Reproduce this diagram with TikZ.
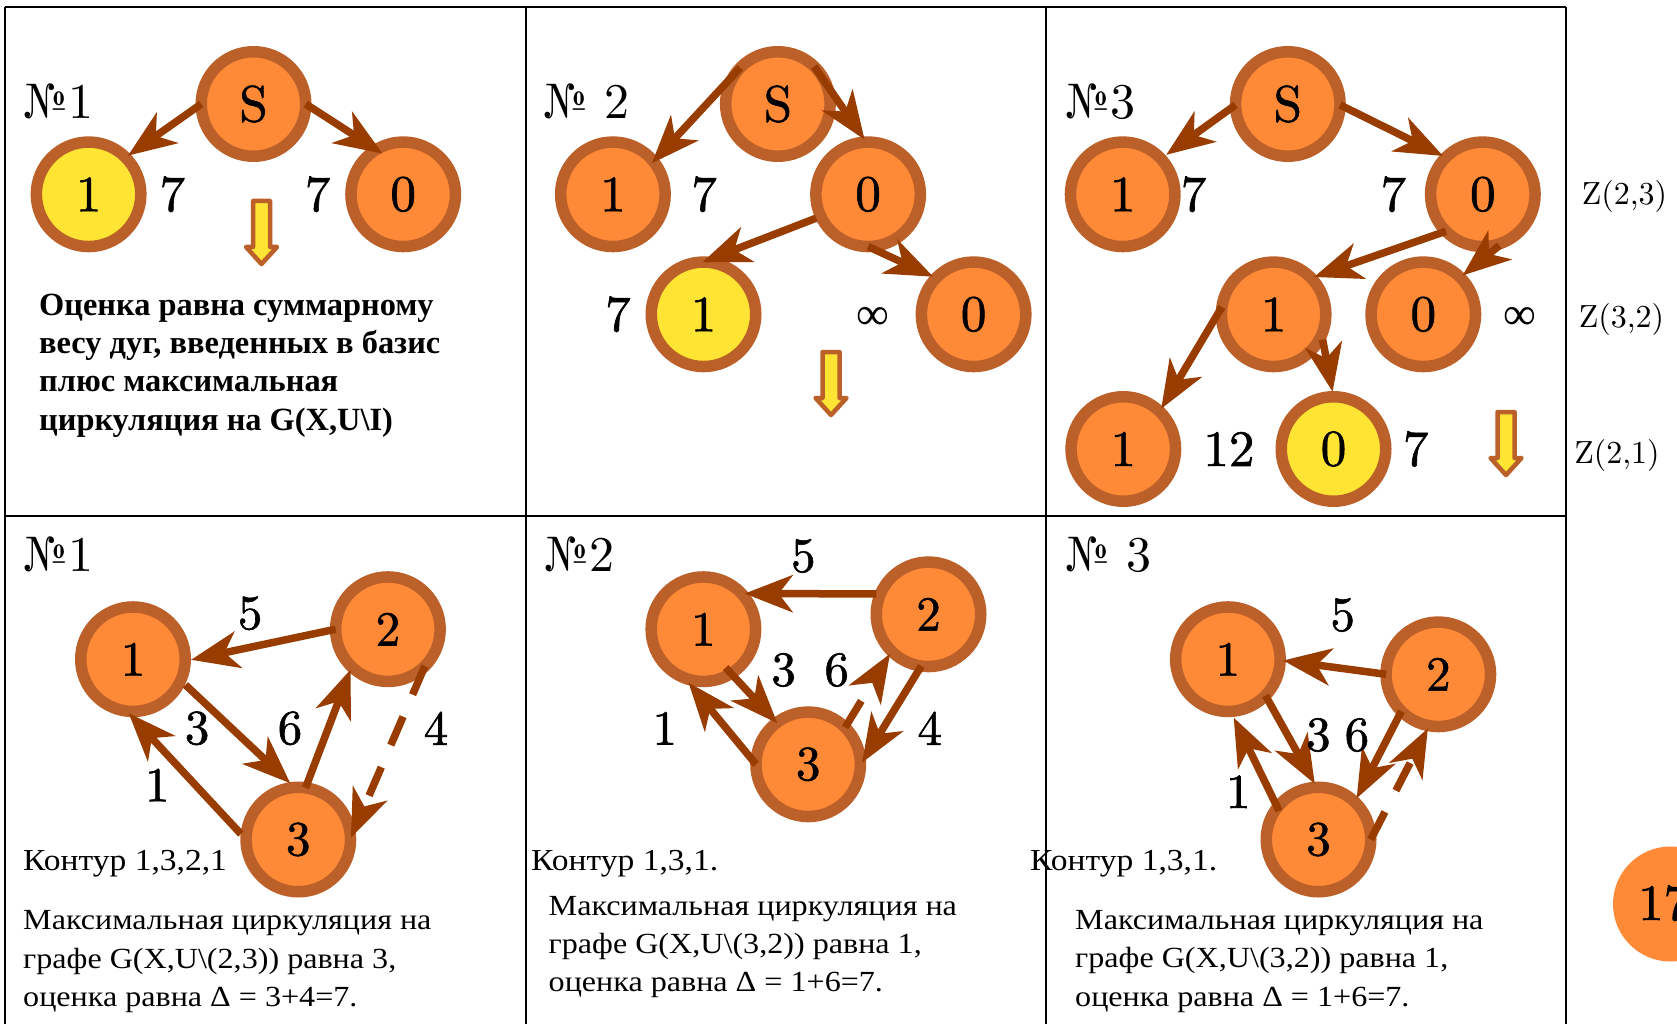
\documentclass[tikz,border=0pt]{standalone}
\usepackage{fontspec}
\newfontfamily\cyr{Liberation Serif}
\newfontfamily\cyrwide{Liberation Serif}[FakeStretch=1.1]
\newfontfamily\lmten{lmroman10-regular.otf}
\newfontfamily\lmheavy{lmroman10-regular.otf}[FakeBold=1.2]
\usetikzlibrary{arrows.meta}
\definecolor{vfill}{RGB}{254,137,55}
\definecolor{vring}{RGB}{188,96,42}
\definecolor{vyellow}{RGB}{255,228,51}
\definecolor{arrowc}{RGB}{153,60,0}
\newcommand\vbigfont{\lmheavy\fontsize{51}{60}\selectfont}
\newcommand\vmidfont{\lmheavy\fontsize{49}{58}\selectfont}
% block arrow pointing down: #1 = centre x, #2 = top y
\newcommand\dnarrowat[2]{%
  \draw[dnarrow] (#1-8.5,#2) -- (#1-8.5,#2+46) -- (#1-15.5,#2+46) -- (#1,#2+63)
    -- (#1+15.5,#2+46) -- (#1+8.5,#2+46) -- (#1+8.5,#2) -- cycle;}
\begin{document}
\begin{tikzpicture}[x=1pt,y=-1pt,
  vx/.style={circle, draw=vring, fill=vfill, line width=11.5pt, minimum size=104.5pt,
    inner sep=0pt, outer sep=0pt, font=\vbigfont},
  vy/.style={vx, fill=vyellow},
  vs/.style={vx, font=\vmidfont},
  arr/.style={draw=arrowc, line width=7.5pt, shorten >=3pt,
    -{Stealth[length=48pt,width=37pt,inset=14pt]}},
  darr/.style={arr, dash pattern=on 31pt off 24pt},
  lbl/.style={inner sep=0pt, font=\vbigfont},
  lbs/.style={inner sep=0pt, font=\vmidfont},
  numlbl/.style={anchor=base west, inner sep=0pt, font=\lmten\fontsize{50}{58}\selectfont},
  zlbl/.style={inner sep=0pt, font=\lmten\fontsize{32}{38}\selectfont},
  boldtxt/.style={anchor=base west, inner sep=0pt, font=\cyr\bfseries\fontsize{32.4}{38}\selectfont},
  contour/.style={anchor=base west, inner sep=0pt, font=\cyrwide\fontsize{30.5}{38}\selectfont},
  bodytxt/.style={anchor=base west, inner sep=0pt, font=\cyrwide\fontsize{29.2}{38}\selectfont},
  inflbl/.style={inner sep=0pt, font=\cyr\fontsize{46}{52}\selectfont},
  dnarrow/.style={draw=vring, fill=vyellow, line width=4.5pt, line join=round},
  grid/.style={draw=black, line width=2pt}]
\useasboundingbox (0,0) rectangle (1677,1024);
\fill[white] (0,0) rectangle (1677,1024);

% ---------- upper row, step 1 ----------
\node[numlbl] (h1) at (22,118.3) {№1};
\node[vx] (p1s) at (253.5,104) {S};
\node[vy] (p1a) at (88.6,194.3) {1};
\node[vx] (p1b) at (403.2,194.3) {0};
\node[lbl] (p1w1) at (172.4,194.3) {7};
\node[lbl] (p1w2) at (317.7,194.3) {7};
\draw[arr] (p1s.180) -- (p1a.45);
\draw[arr, shorten >=-7.5pt] (p1s.0) -- (p1b.121);
\dnarrowat{261.5}{201}
\node[boldtxt] (bt1) at (39,315) {Оценка равна суммарному};
\node[boldtxt] (bt2) at (39,353.3) {весу дуг, введенных в базис};
\node[boldtxt] (bt3) at (39,391.7) {плюс максимальная};
\node[boldtxt] (bt4) at (39,430) {циркуляция на G(X,U\textbackslash I)};

% ---------- upper row, step 2 ----------
\node[numlbl] (h2) at (542,118.3) {№ 2};
\node[vx] (p2s) at (777.9,104) {S};
\node[vx] (p2a) at (612.9,194.3) {1};
\node[vx] (p2b) at (868.1,194.3) {0};
\node[vy] (p2c) at (703.5,314.3) {1};
\node[vx] (p2d) at (973.6,314.3) {0};
\node[lbl] (p2w1) at (704.2,194.3) {7};
\node[lbl] (p2w2) at (618,314.3) {7};
\node[inflbl] (p2w3) at (873.2,318.3) {∞};
\draw[arr, shorten >=-2.5pt] (p2s.136) -- (p2a.39);
\draw[arr] (p2s.46) -- (p2b.92);
\draw[arr, shorten <=5pt, shorten >=0pt] (p2b.205) -- (p2c.91);
\draw[arr] (p2b.-90) -- (p2d.136);
\dnarrowat{831}{352}

% ---------- upper row, step 3 ----------
\node[numlbl] (h3) at (1064,118.3) {№3};
\node[vx] (p3s) at (1287.8,104) {S};
\node[vx] (p3a) at (1122.7,194.3) {1};
\node[vx] (p3b) at (1482.8,194.3) {0};
\node[vx] (p3c) at (1273.6,314.3) {1};
\node[vx] (p3d) at (1423.3,314.3) {0};
\node[vx] (p3e) at (1123.3,449) {1};
\node[vy] (p3f) at (1333.5,449) {0};
\node[lbl] (p3w1) at (1193.6,194.3) {7};
\node[lbl] (p3w2) at (1393.4,194.3) {7};
\node[inflbl] (p3w3) at (1519.4,318.3) {∞};
\node[lbl] (p3w4) at (1228.9,449) {12};
\node[lbl] (p3w5) at (1415.8,449) {7};
\draw[arr, shorten >=6.5pt] (p3s.181) -- (p3a.43);
\draw[arr] (p3s.-1) -- (p3b.135);
\draw[arr] (p3b.225) -- (p3c.44);
\draw[arr, shorten <=5pt] (p3b.-67) -- (p3d.45);
\draw[arr] (p3c.172) -- (p3e.46);
\draw[arr, shorten <=5pt, shorten >=5pt] (p3c.-23) -- (p3f.90);
\dnarrowat{1506}{412}
\node[zlbl] (z1) at (1624.5,197) {Z(2,3)};
\node[zlbl] (z2) at (1621.5,319.5) {Z(3,2)};
\node[zlbl] (z3) at (1617,455) {Z(2,1)};

% ---------- lower row, step 1 ----------
\node[numlbl] (k1) at (22,571) {№1};
\node[vs] (q1a) at (133,659.2) {1};
\node[vs] (q1b) at (387.9,629.2) {2};
\node[vs] (q1c) at (298.3,839.5) {3};
\draw[arr, shorten >=6pt] (q1b.180) -- (q1a.-2);
\draw[arr, shorten <=6.5pt, shorten >=6pt] (q1a.-24) -- (q1c.94);
\draw[arr] (q1c.82) -- (q1b.-134);
\draw[arr, shorten <=7.5pt] (q1c.180) -- (q1a.-97);
\draw[darr, shorten >=1pt] (q1b.-45) -- (q1c.1);
\node[lbs] (q1w5) at (250.1,613.3) {5};
\node[lbs] (q1w3) at (197.1,728.3) {3};
\node[lbs] (q1w6) at (290,728.3) {6};
\node[lbs] (q1w4) at (436,728.3) {4};
\node[lbs] (q1w1) at (157.2,785) {1};
\node[contour] (c1) at (23,870) {Контур 1,3,2,1};
\node[bodytxt] (m1a) at (23,929.3) {Максимальная циркуляция на};
\node[bodytxt] (m1b) at (23,968.3) {графе G(X,U\textbackslash(2,3)) равна 3,};
\node[bodytxt] (m1c) at (23,1006.7) {оценка равна Δ = 3+4=7.};

% ---------- lower row, step 2 ----------
\node[numlbl] (k2) at (543,571) {№2};
\node[vs] (q2a) at (703.4,629.2) {1};
\node[vs] (q2b) at (928.5,614.3) {2};
\node[vs] (q2c) at (808.2,764.3) {3};
\draw[arr, shorten <=4pt] (q2b.157) -- (q2a.43);
\draw[arr, shorten <=-8pt, shorten >=-1pt] (q2a.-58) -- (q2c.127);
\draw[arr, shorten >=6pt] (q2c.180) -- (q2a.-111);
\draw[darr] (q2c.45) -- (q2b.-135);
\draw[arr] (q2b.-98) -- (q2c.-1);
\node[lbs] (q2w5) at (803.3,556) {5};
\node[lbs] (q2w3) at (783.6,670) {3};
\node[lbs] (q2w6) at (836.7,670) {6};
\node[lbs] (q2w1) at (664.7,728.3) {1};
\node[lbs] (q2w4) at (929.7,728.3) {4};
\node[contour] (c2) at (531,870.7) {Контур 1,3,1.};
\node[bodytxt] (m2a) at (548.5,915) {Максимальная циркуляция на};
\node[bodytxt] (m2b) at (548.5,953.3) {графе G(X,U\textbackslash(3,2)) равна 1,};
\node[bodytxt] (m2c) at (548.5,991.7) {оценка равна Δ = 1+6=7.};

% ---------- lower row, step 3 ----------
\node[numlbl] (k3) at (1064,571) {№ 3};
\node[vs] (q3a) at (1227.9,659.2) {1};
\node[vs] (q3b) at (1438.3,674.3) {2};
\node[vs] (q3c) at (1318.5,839.5) {3};
\draw[arr] (q3b.180) -- (q3a.-1);
\draw[arr, shorten >=4pt] (q3a.-44) -- (q3c.92);
\draw[arr, shorten <=-4pt, shorten >=7pt] (q3c.142) -- (q3a.-87);
\draw[arr, shorten >=4pt] (q3b.-135) -- (q3c.46);
\draw[darr] (q3c.0) -- (q3b.-100);
\node[lbs] (q3w5) at (1342.7,615) {5};
\node[lbs] (q3w3) at (1318.3,735) {3};
\node[lbs] (q3w6) at (1356.9,735) {6};
\node[lbs] (q3w1) at (1238.3,791.7) {1};
\node[contour] (c3) at (1030,870.7) {Контур 1,3,1.};
\node[bodytxt] (m3a) at (1075,929.3) {Максимальная циркуляция на};
\node[bodytxt] (m3b) at (1075,967.7) {графе G(X,U\textbackslash(3,2)) равна 1,};
\node[bodytxt] (m3c) at (1075,1006.7) {оценка равна Δ = 1+6=7.};

% ---------- page marker ----------
\node[circle, fill=vfill, minimum size=115pt, inner sep=0pt] (pg) at (1670.5,904) {};
\node[anchor=base west, inner sep=0pt, font=\vbigfont] (pgn) at (1638,920) {17};

% ---------- table frame ----------
\draw[grid] (5,7) -- (1566,7);
\draw[grid] (5,516) -- (1566,516);
\draw[grid] (5,7) -- (5,1040);
\draw[grid] (525.5,7) -- (525.5,1040);
\draw[grid] (1046,7) -- (1046,1040);
\draw[grid] (1566,7) -- (1566,1040);
\end{tikzpicture}
\end{document}
